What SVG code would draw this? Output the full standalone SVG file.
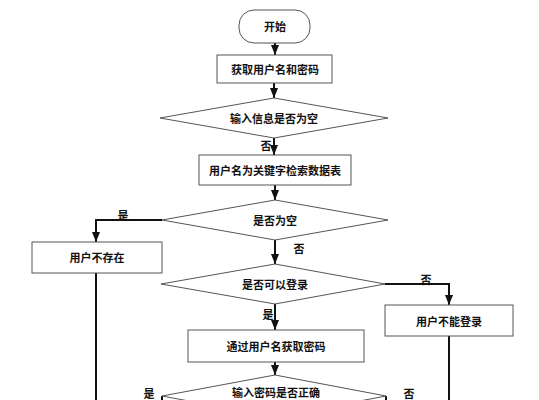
<svg xmlns="http://www.w3.org/2000/svg" width="539" height="400" viewBox="0 0 539 400">
<style>
.s{fill:#fff;stroke:#555;stroke-width:1}
.t{font-family:"Noto Sans CJK SC","Noto Sans CJK JP",sans-serif;font-size:11px;font-weight:bold;fill:#111;text-anchor:middle;dominant-baseline:central}
.c{fill:none;stroke:#111;stroke-width:2}
</style>
<defs>
<marker id="a" markerUnits="userSpaceOnUse" markerWidth="10" markerHeight="10" viewBox="0 0 10 10" refX="10" refY="5" orient="auto">
<path d="M0,1 L10,5 L0,9 Z" fill="#111"/>
</marker>
</defs>
<rect width="539" height="400" fill="#fff"/>
<g id="connectors">
<path class="c" d="M275,43 V55" marker-end="url(#a)"/>
<path class="c" d="M274,83 V98" marker-end="url(#a)"/>
<path class="c" d="M274,138 V155" marker-end="url(#a)"/>
<path class="c" d="M275,185 V200" marker-end="url(#a)"/>
<path class="c" d="M162,220 H96 V242" marker-end="url(#a)"/>
<path class="c" d="M96,273 V400"/>
<path class="c" d="M275,240 V264" marker-end="url(#a)"/>
<path class="c" d="M385,284 H449 V305" marker-end="url(#a)"/>
<path class="c" d="M449,336 V400"/>
<path class="c" d="M275,304 V330" marker-end="url(#a)"/>
<path class="c" d="M275,362 V375" marker-end="url(#a)"/>
<path class="c" d="M162,396 V400"/>
<path class="c" d="M386,396 V400"/>
<text class="t" x="266" y="145">否</text>
<text class="t" x="123" y="215">是</text>
<text class="t" x="299" y="248">否</text>
<text class="t" x="426" y="279">否</text>
<text class="t" x="268" y="314">是</text>
<text class="t" x="149" y="393">是</text>
<text class="t" x="409" y="393">否</text>
</g>
<g id="start">
<rect class="s" x="239" y="10" width="71" height="33" rx="15"/>
<text class="t" x="275" y="26">开始</text>
</g>
<g id="getUser">
<rect class="s" x="217" y="55" width="115" height="28"/>
<text class="t" x="275" y="69">获取用户名和密码</text>
</g>
<g id="checkEmpty">
<path class="s" d="M274,98 L388,118 L274,138 L160,118 Z"/>
<text class="t" x="274" y="118">输入信息是否为空</text>
</g>
<g id="search">
<rect class="s" x="199" y="155" width="152" height="30"/>
<text class="t" x="275" y="170">用户名为关键字检索数据表</text>
</g>
<g id="isEmpty">
<path class="s" d="M275,200 L388,220 L275,240 L162,220 Z"/>
<text class="t" x="275" y="220">是否为空</text>
</g>
<g id="noUser">
<rect class="s" x="32" y="242" width="130" height="31"/>
<text class="t" x="97" y="257">用户不存在</text>
</g>
<g id="canLogin">
<path class="s" d="M275,264 L385,284 L275,304 L161,284 Z"/>
<text class="t" x="275" y="284">是否可以登录</text>
</g>
<g id="cannotLogin">
<rect class="s" x="385" y="305" width="128" height="31"/>
<text class="t" x="449" y="321">用户不能登录</text>
</g>
<g id="getPwd">
<rect class="s" x="188" y="330" width="176" height="32"/>
<text class="t" x="276" y="346">通过用户名获取密码</text>
</g>
<g id="pwdCorrect">
<path class="s" d="M275,375 L386,396 L275,417 L162,396 Z"/>
<text class="t" x="276" y="392">输入密码是否正确</text>
</g>
</svg>
